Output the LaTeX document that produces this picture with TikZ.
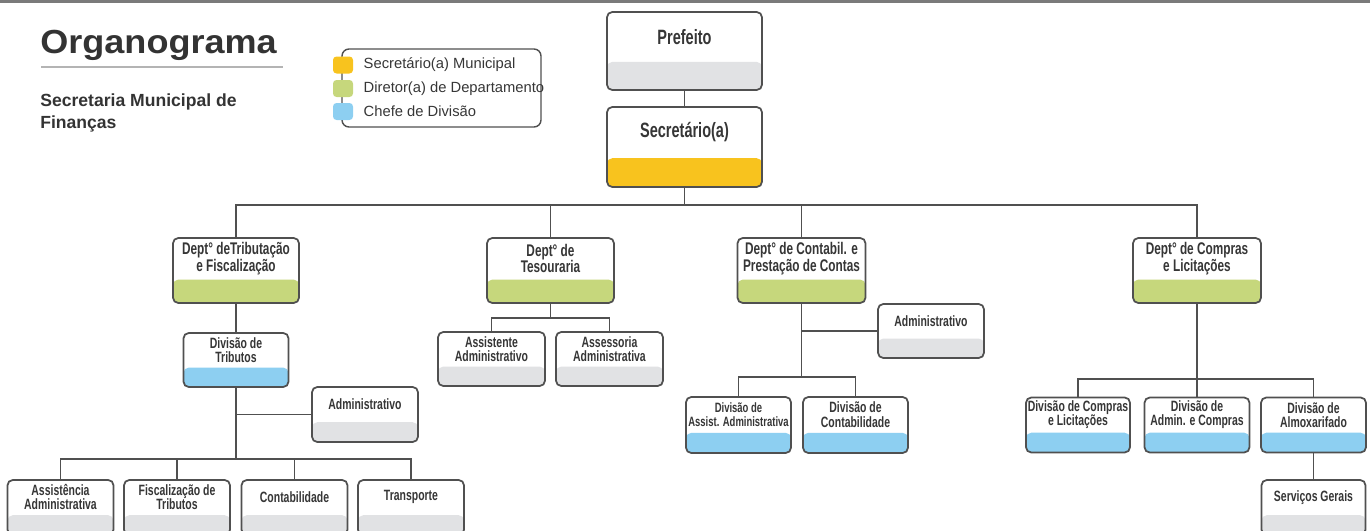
\documentclass[tikz,border=0pt]{standalone}
\usepackage{fontspec}
\setmainfont{Liberation Sans}
\newfontfamily\boxfont[FakeStretch=0.7]{Liberation Sans}
\newfontfamily\titlefont[FakeStretch=1.08]{Liberation Sans}
\usetikzlibrary{calc,positioning}

\definecolor{lineg}{HTML}{505050}
\definecolor{txtg}{HTML}{363636}
\definecolor{titleg}{HTML}{333333}
\definecolor{ruleg}{HTML}{B4B4B4}
\definecolor{topg}{HTML}{7A7A7A}
\definecolor{yellowband}{HTML}{F8C31E}
\definecolor{greenband}{HTML}{C6D77C}
\definecolor{blueband}{HTML}{8DCFF1}
\definecolor{grayband}{HTML}{E1E2E4}

\tikzset{
  unitbox/.style={draw=lineg, line width=1pt, rounded corners=3pt, fill=white, inner sep=0pt},
  boxtxt/.style={align=center, inner sep=0pt, text=txtg},
  bigtxt/.style={font=\boxfont\bfseries\fontsize{11.8}{13}\selectfont},
  depttxt/.style={font=\boxfont\bfseries\fontsize{9.6}{9.5}\selectfont},
  smalltxt/.style={font=\boxfont\bfseries\fontsize{8.5}{8.1}\selectfont},
  tinytxt/.style={font=\boxfont\bfseries\fontsize{7.7}{8.1}\selectfont},
  link/.style={draw=lineg, line width=0.9pt},
  legkey/.style={rounded corners=2pt, minimum width=0.4cm, minimum height=0.34cm, inner sep=0pt},
  legtxt/.style={anchor=west, inner sep=0pt, text=txtg, font=\fontsize{8.4}{10}\selectfont},
}

% box with coloured lower band: name, x, y, width, height, band, text style, text
\newcommand{\orgunit}[8]{%
  \node[unitbox, minimum width=#4*0.02cm, minimum height=#5*0.02cm,
        path picture={\fill[#6] (path picture bounding box.south west) rectangle
          ($(path picture bounding box.north east)!0.64!(path picture bounding box.south east)$);}]
    (#1) at (#2,#3) {};
  \node[boxtxt,#7] (#1-t) at ($(#1.north)!0.32!(#1.south)$) {#8};}

\begin{document}
\begin{tikzpicture}[x=0.02cm, y=-0.02cm]
  \useasboundingbox (0,0) rectangle (1370,531);
  \clip (0,0) rectangle (1370,531);
  \draw[line width=1.4pt, draw=topg] (0,1.5) -- (1370,1.5);

  % title and legend
  \node[anchor=base west, inner sep=0pt, text=titleg,
        font=\titlefont\bfseries\fontsize{19}{22}\selectfont] (title) at (40,53) {Organograma};
  \draw[line width=1.1pt, draw=ruleg] (41,67) -- (283,67);
  \node[anchor=north west, align=left, inner sep=0pt, text=titleg,
        font=\bfseries\fontsize{10}{12.5}\selectfont] (sub) at (40,93) {Secretaria Municipal de\\Finanças};

  \node[draw=lineg, line width=0.8pt, rounded corners=4pt, minimum width=199*0.02cm,
        minimum height=78*0.02cm] (leg) at (441.5,88) {};
  \node[legkey, fill=yellowband] (k1) at (343,65) {};
  \node[legkey, fill=greenband] (k2) at (343,88.5) {};
  \node[legkey, fill=blueband] (k3) at (343,111.5) {};
  \node[legtxt, right=0.2cm of k1] (k1-t) {Secretário(a) Municipal};
  \node[legtxt, right=0.2cm of k2] (k2-t) {Diretor(a) de Departamento};
  \node[legtxt, right=0.2cm of k3] (k3-t) {Chefe de Divisão};

  % top
  \orgunit{pref}{684.5}{51}{155}{78}{grayband}{bigtxt}{Prefeito}
  \orgunit{sec}{684.5}{147}{155}{80}{yellowband}{bigtxt}{Secretário(a)}

  % departments
  \orgunit{dtrib}{236}{270.5}{126}{65}{greenband}{depttxt}{Dept° deTributação\\e Fiscalização}
  \orgunit{dtes}{550.5}{270.5}{127}{65}{greenband}{depttxt}{Dept° de\\Tesouraria}
  \orgunit{dcont}{801.5}{270.5}{128}{65}{greenband}{depttxt}{Dept° de Contabil. e\\Prestação de Contas}
  \orgunit{dcomp}{1197}{270.5}{128}{65}{greenband}{depttxt}{Dept° de Compras\\e Licitações}

  % tributacao
  \orgunit{divt}{236}{360}{105}{54}{blueband}{smalltxt}{Divisão de\\Tributos}
  \orgunit{admt}{365}{414.5}{106}{55}{grayband}{smalltxt}{Administrativo}
  \orgunit{asst}{60.5}{507.5}{106}{55}{grayband}{smalltxt}{Assistência\\Administrativa}
  \orgunit{fisc}{177}{507.5}{106}{55}{grayband}{smalltxt}{Fiscalização de\\Tributos}
  \orgunit{ctb}{294.5}{507.5}{106}{55}{grayband}{smalltxt}{Contabilidade}
  \orgunit{transp}{411}{507.5}{106}{55}{grayband}{smalltxt}{Transporte}

  % tesouraria
  \orgunit{assist}{491.5}{359}{107}{54}{grayband}{smalltxt}{Assistente\\Administrativo}
  \orgunit{assess}{609.5}{359}{107}{54}{grayband}{smalltxt}{Assessoria\\Administrativa}

  % contabilidade
  \orgunit{admc}{931}{331}{106}{54}{grayband}{smalltxt}{Administrativo}
  \orgunit{divaa}{738.5}{425}{105}{56}{blueband}{tinytxt}{Divisão de\\Assist. Administrativa}
  \orgunit{divct}{855.5}{425}{105}{56}{blueband}{smalltxt}{Divisão de\\Contabilidade}

  % compras
  \orgunit{divcl}{1078}{425}{104}{55}{blueband}{smalltxt}{Divisão de Compras\\e Licitações}
  \orgunit{divac}{1197}{425}{105}{55}{blueband}{smalltxt}{Divisão de\\Admin. e Compras}
  \orgunit{dival}{1313.5}{425}{105}{55}{blueband}{smalltxt}{Divisão de\\Almoxarifado}
  \orgunit{serv}{1313.5}{507.5}{104}{55}{grayband}{smalltxt}{Serviços Gerais}

  % connectors
  \coordinate (bus0) at (684.5,205);
  \coordinate (bust) at (236,459);
  \coordinate (buss) at (550.5,318);
  \coordinate (busc) at (801.5,377);
  \coordinate (busp) at (1197,379);
  \draw[link] (pref) -- (sec);
  \draw[link] (sec) -- (bus0);
  \draw[link] (dtrib) |- (bus0) -| (dcomp);
  \draw[link] (dtes) |- (bus0);
  \draw[link] (dcont) |- (bus0);

  \draw[link] (dtrib) -- (divt);
  \draw[link] (divt) -- (bust);
  \draw[link] (admt) -- (admt -| divt);
  \draw[link] (asst) |- (bust) -| (transp);
  \draw[link] (fisc) |- (bust);
  \draw[link] (ctb) |- (bust);

  \draw[link] (dtes) -- (buss);
  \draw[link] (assist) |- (buss) -| (assess);

  \draw[link] (dcont) -- (busc);
  \draw[link] (admc) -- (admc -| dcont);
  \draw[link] (divaa) |- (busc) -| (divct);

  \draw[link] (dcomp) -- (busp);
  \draw[link] (divcl) |- (busp) -| (dival);
  \draw[link] (divac) -- (busp);
  \draw[link] (dival) -- (serv);
\end{tikzpicture}
\end{document}
